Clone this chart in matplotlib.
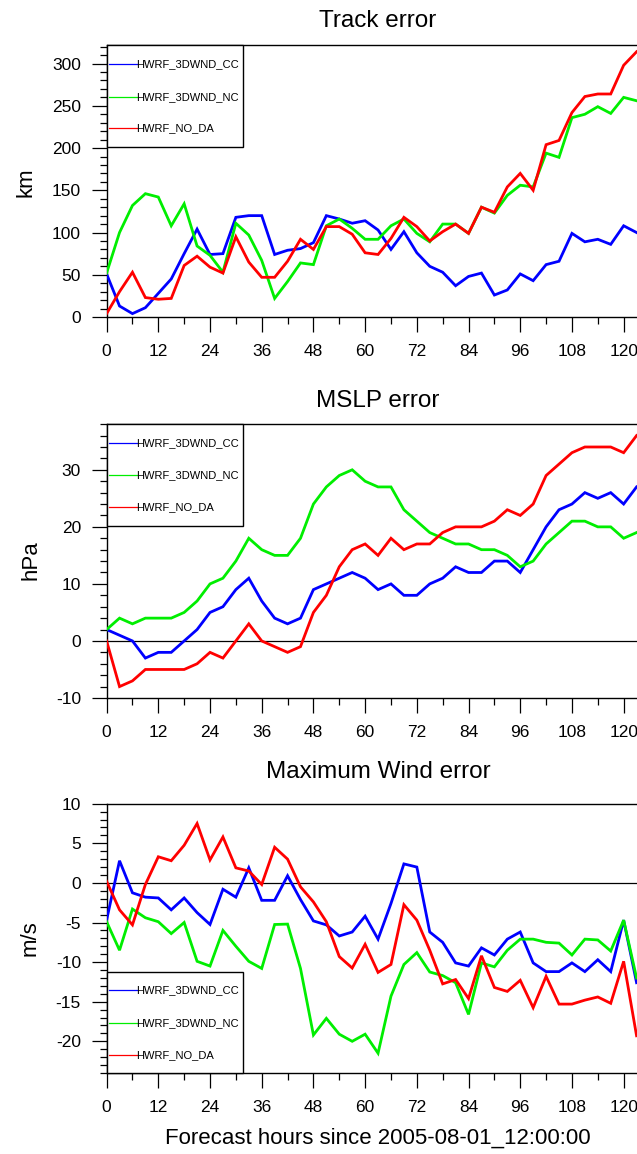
import numpy as np
import matplotlib
matplotlib.use("Agg")
import matplotlib.pyplot as plt
from matplotlib.patches import Rectangle
from matplotlib.lines import Line2D
from matplotlib.ticker import MultipleLocator

plt.rcParams['font.family'] = ['Liberation Sans', 'DejaVu Sans']
plt.rcParams['axes.unicode_minus'] = False

# forecast lead times (hours), every 3 h
hours = list(range(0, 124, 3))

experiments = ["HWRF_3DWND_CC", "HWRF_3DWND_NC", "HWRF_NO_DA"]
colors = ["#0000ff", "#00ee00", "#ff0000"]

# Track error (km)
track_cc = [51, 13, 4, 11, 28, 45, 75, 104, 74, 75, 118, 120, 120, 74, 79, 81, 88, 120, 116, 111, 114,
            103, 80, 101, 76, 60, 53, 37, 48, 52, 26, 32, 51, 43, 62, 66, 99, 89, 92, 86, 108, 100]
track_nc = [52, 100, 132, 146, 142, 108, 134, 84, 73, 53, 111, 97, 67, 22, 42, 64, 62, 108, 116, 105, 92,
            92, 108, 116, 99, 89, 110, 110, 99, 130, 123, 144, 156, 154, 194, 189, 236, 240, 249, 241, 260, 256]
track_noda = [4, 30, 53, 23, 21, 22, 61, 72, 59, 52, 95, 65, 47, 47, 66, 92, 80, 107, 107, 98, 76,
              74, 93, 118, 107, 90, 101, 110, 99, 130, 124, 154, 170, 150, 204, 209, 242, 261, 264, 264, 298, 314]

# MSLP error (hPa)
mslp_cc = [2, 1, 0, -3, -2, -2, 0, 2, 5, 6, 9, 11, 7, 4, 3, 4, 9, 10, 11, 12, 11,
           9, 10, 8, 8, 10, 11, 13, 12, 12, 14, 14, 12, 16, 20, 23, 24, 26, 25, 26, 24, 27]
mslp_nc = [2, 4, 3, 4, 4, 4, 5, 7, 10, 11, 14, 18, 16, 15, 15, 18, 24, 27, 29, 30, 28,
           27, 27, 23, 21, 19, 18, 17, 17, 16, 16, 15, 13, 14, 17, 19, 21, 21, 20, 20, 18, 19]
mslp_noda = [0, -8, -7, -5, -5, -5, -5, -4, -2, -3, 0, 3, 0, -1, -2, -1, 5, 8, 13, 16, 17,
             15, 18, 16, 17, 17, 19, 20, 20, 20, 21, 23, 22, 24, 29, 31, 33, 34, 34, 34, 33, 36]

# Maximum wind error (m/s)
wind_cc = [-4.7, 2.8, -1.25, -1.8, -1.9, -3.4, -1.9, -3.75, -5.25, -0.8, -1.8, 1.9, -2.2, -2.2, 0.9,
           -2.1, -4.8, -5.3, -6.7, -6.2, -4.2, -7.1, -2.6, 2.4, 2.0, -6.2, -7.5, -10.1, -10.5, -8.2,
           -9.1, -7.1, -6.2, -10.1, -11.2, -11.2, -10.1, -11.2, -9.7, -11.2, -4.7, -12.6]
wind_nc = [-4.9, -8.5, -3.3, -4.4, -4.9, -6.4, -5.0, -9.9, -10.5, -6.0, -8.0, -9.9, -10.8, -5.25, -5.2,
           -10.8, -19.2, -17.1, -19.1, -20.0, -19.1, -21.5, -14.3, -10.3, -8.8, -11.25, -11.7, -12.6,
           -16.6, -10.1, -10.6, -8.5, -7.1, -7.1, -7.5, -7.6, -9.1, -7.1, -7.2, -8.6, -4.7, -12.0]
wind_noda = [0.2, -3.4, -5.3, -0.2, 3.3, 2.8, 4.75, 7.5, 2.9, 5.8, 1.9, 1.5, -0.2, 4.5, 3.0,
             -0.5, -2.4, -4.9, -9.3, -10.75, -7.75, -11.3, -10.3, -2.75, -4.7, -8.5, -12.75, -12.2,
             -14.6, -9.2, -13.2, -13.7, -12.3, -15.75, -11.8, -15.3, -15.3, -14.8, -14.4, -15.2, -9.9, -19.3]

W, H = 637, 1154
fig = plt.figure(figsize=(W / 100, H / 100), dpi=100)


def fx(x):
    return x / W


def fy(y):
    return 1 - y / H


panels = [
    dict(title="Track error", ylabel="km", series=[track_cc, track_nc, track_noda],
         top=45, bottom=317, ylim=(0, 322), major=50, minor=10, zero=False,
         title_y=26.7, ylabel_xy=(26, 182),
         legend=dict(top=45, bottom=146.7, rows=[64, 96.7, 128])),
    dict(title="MSLP error", ylabel="hPa", series=[mslp_cc, mslp_nc, mslp_noda],
         top=423.6, bottom=698, ylim=(-10, 38.1), major=10, minor=2, zero=True,
         title_y=406.7, ylabel_xy=(31, 560),
         legend=dict(top=423.6, bottom=526, rows=[442.7, 475, 507.3])),
    dict(title="Maximum Wind error", ylabel="m/s", series=[wind_cc, wind_nc, wind_noda],
         top=803.7, bottom=1073, ylim=(-24, 10), major=5, minor=1, zero=True,
         title_y=778.3, ylabel_xy=(30, 938),
         legend=dict(top=971.7, bottom=1073, rows=[990, 1022.7, 1055])),
]

left_px, right_px = 106.6, 649.5
xmax = 126

for i, p in enumerate(panels):
    ax = fig.add_axes([fx(left_px), fy(p["bottom"]), fx(right_px - left_px),
                       (p["bottom"] - p["top"]) / H])
    for vals, c in zip(p["series"], colors):
        ax.plot(hours, vals, color=c, lw=2.0, solid_joinstyle='miter', zorder=3)
    if p["zero"]:
        ax.axhline(0, color="black", lw=0.9, zorder=2)
    ax.set_xlim(0, xmax)
    ax.set_ylim(*p["ylim"])
    ax.xaxis.set_major_locator(MultipleLocator(12))
    ax.xaxis.set_minor_locator(MultipleLocator(6))
    ax.yaxis.set_major_locator(MultipleLocator(p["major"]))
    ax.yaxis.set_minor_locator(MultipleLocator(p["minor"]))
    ax.tick_params(which="both", direction="out", top=False, right=False, width=0.9)
    ax.tick_params(which="major", length=10.5)
    ax.tick_params(which="minor", length=5)
    ax.tick_params(axis="x", which="major", labelsize=12.5, pad=9)
    ax.tick_params(axis="y", which="major", labelsize=12.5, pad=8)
    for s in ax.spines.values():
        s.set_linewidth(1.0)
    fig.text(fx((left_px + right_px) / 2), fy(p["title_y"]), p["title"],
             ha="center", va="baseline", fontsize=17.5)
    fig.text(fx(p["ylabel_xy"][0]), fy(p["ylabel_xy"][1]), p["ylabel"],
             ha="center", va="center", rotation=90, fontsize=16)

    # legend box
    lg = p["legend"]
    box = Rectangle((fx(left_px), fy(lg["bottom"])), fx(243 - left_px),
                    (lg["bottom"] - lg["top"]) / H, transform=fig.transFigure,
                    facecolor="white", edgecolor="black", lw=1.0, zorder=5)
    fig.add_artist(box)
    for name, c, ry in zip(experiments, colors, lg["rows"]):
        fig.add_artist(Line2D([fx(108.5), fx(136.7)], [fy(ry), fy(ry)], color=c, lw=0.9,
                              transform=fig.transFigure, zorder=6))
        fig.text(fx(136.5), fy(ry), name, ha="left", va="center", fontsize=8, zorder=6)

    if i == len(panels) - 1:
        fig.text(fx((left_px + right_px) / 2), fy(1138), "Forecast hours since 2005-08-01_12:00:00",
                 ha="center", va="center", fontsize=16)

fig.savefig("out.png", dpi=100)
